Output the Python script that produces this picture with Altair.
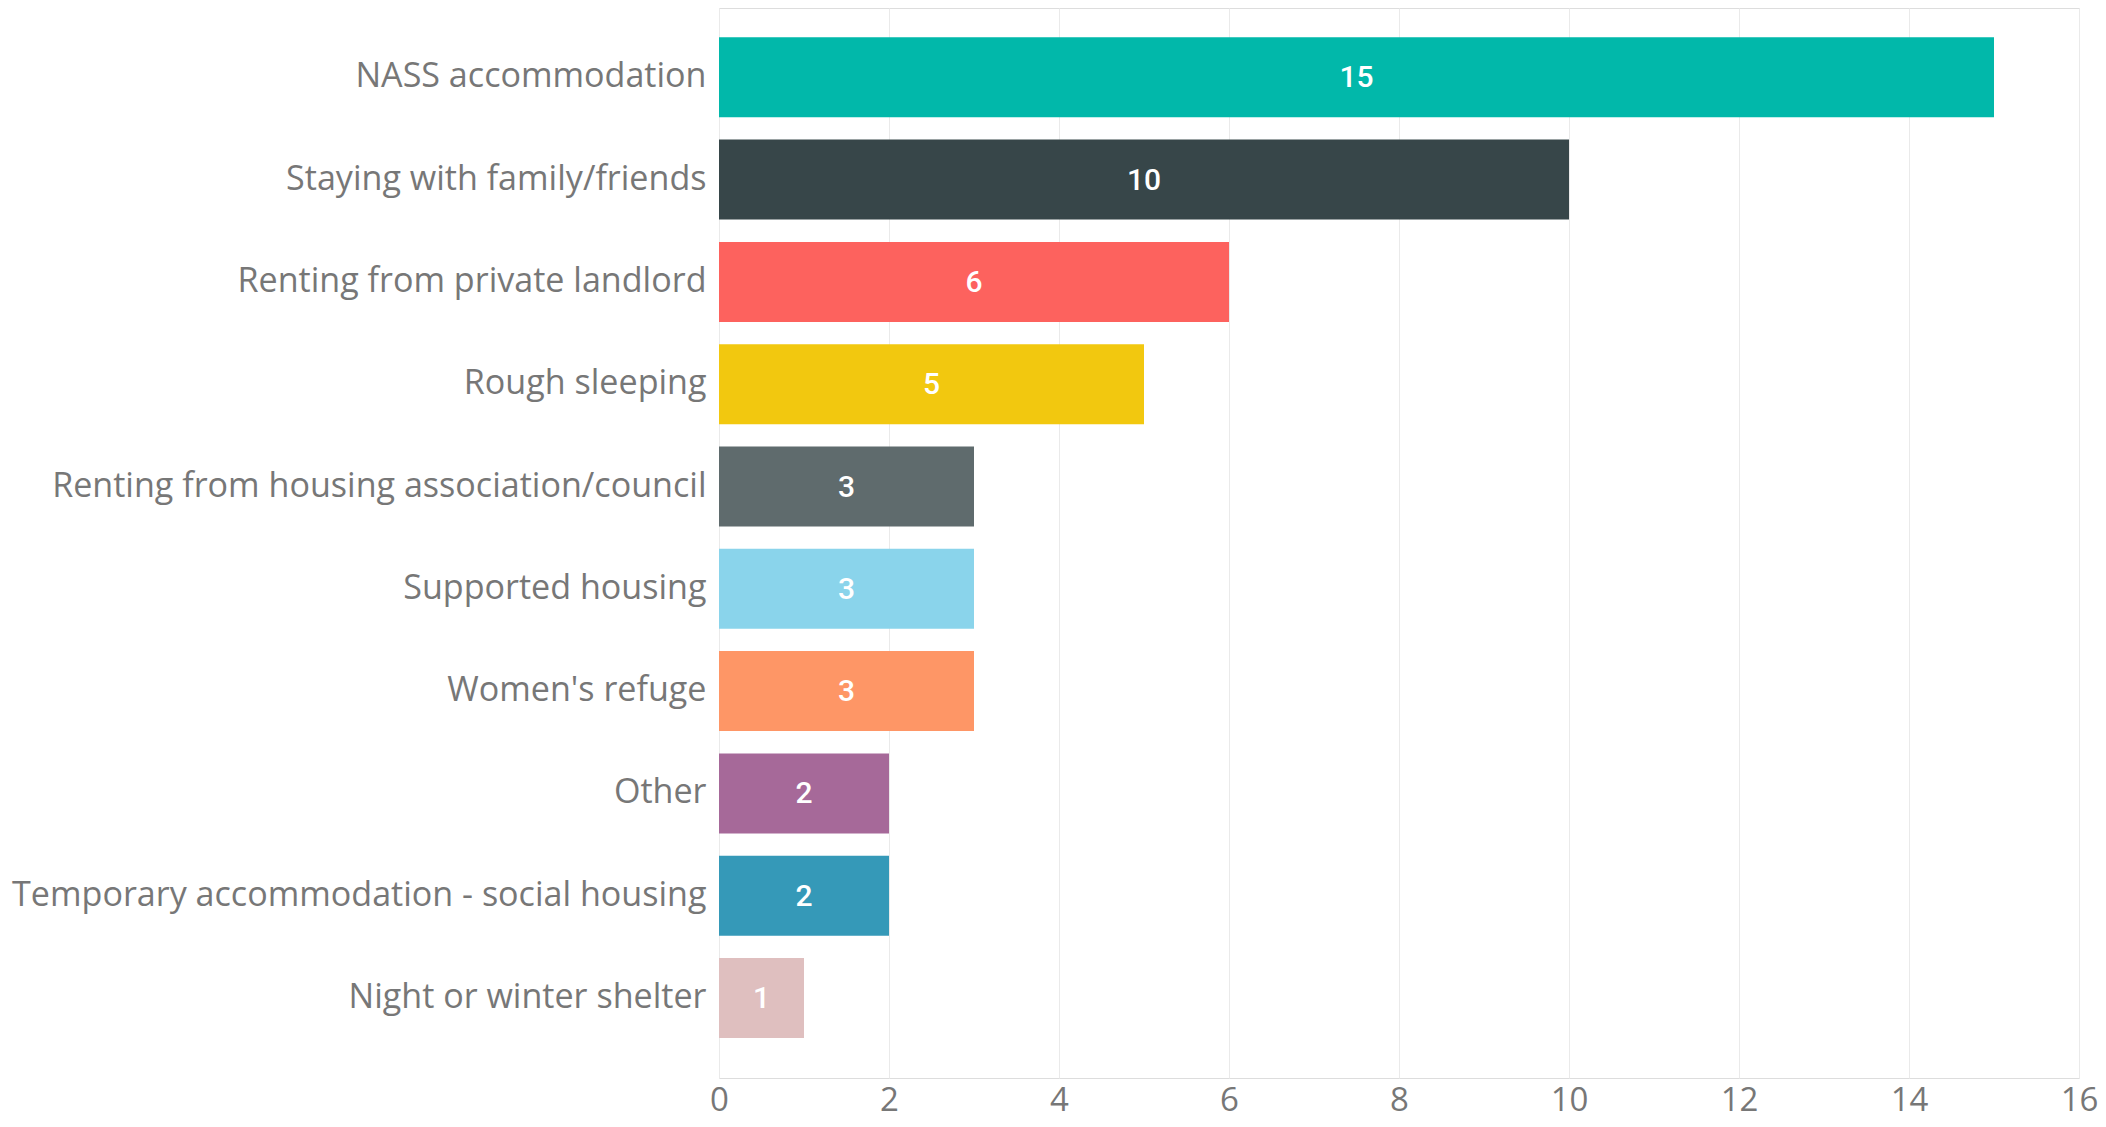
import altair as alt
import pandas as pd

categories = [
    "NASS accommodation",
    "Staying with family/friends",
    "Renting from private landlord",
    "Rough sleeping",
    "Renting from housing association/council",
    "Supported housing",
    "Women's refuge",
    "Other",
    "Temporary accommodation - social housing",
    "Night or winter shelter",
]
values = [15, 10, 6, 5, 3, 3, 3, 2, 2, 1]
colors = [
    "#01B8AA", "#374649", "#FD625E", "#F2C80F", "#5F6B6D",
    "#8AD4EB", "#FE9666", "#A66999", "#3599B8", "#DFBFBF",
]
x_ticks = [0, 2, 4, 6, 8, 10, 12, 14, 16]

df = pd.DataFrame({"category": categories, "value": values, "color": colors})

y_enc = alt.Y(
    "category:N",
    sort=categories,
    scale=alt.Scale(paddingInner=0.218, paddingOuter=0.3387, align=0.423),
    axis=alt.Axis(
        title=None, ticks=False, domain=False, grid=False,
        labelFont="Open Sans", labelFontSize=34.1, labelColor="#777777",
        labelPadding=13, labelLimit=0,
    ),
)
x_scale = alt.Scale(domain=[0, 16], nice=False)

bars = alt.Chart(df).mark_bar().encode(
    y=y_enc,
    x=alt.X(
        "value:Q",
        scale=x_scale,
        axis=alt.Axis(
            title=None, values=x_ticks, format="d", ticks=False, domain=False,
            grid=True, gridColor="#EAEAEA", gridWidth=1,
            labelFont="Open Sans", labelFontSize=33, labelColor="#777777",
            labelPadding=6, labelFlush=False,
        ),
    ),
    color=alt.Color("color:N", scale=None, legend=None),
)

labels = alt.Chart(df).mark_text(
    font="Roboto", fontSize=30, fontWeight=500, color="white",
    align="center", baseline="middle", dy=1,
).encode(
    y=alt.Y("category:N", sort=categories),
    x=alt.X("mid:Q", scale=x_scale),
    text=alt.Text("value:Q"),
).transform_calculate(mid="datum.value / 2")

chart = (
    alt.layer(bars, labels)
    .properties(
        width=1360,
        height=1070,
        padding={"left": 711, "top": 0, "right": 19, "bottom": 41},
        autosize="none",
    )
    .configure_view(stroke=None)
    .configure(background="white")
)

chart.save("out.html", embed_options={"renderer": "svg", "actions": False})
